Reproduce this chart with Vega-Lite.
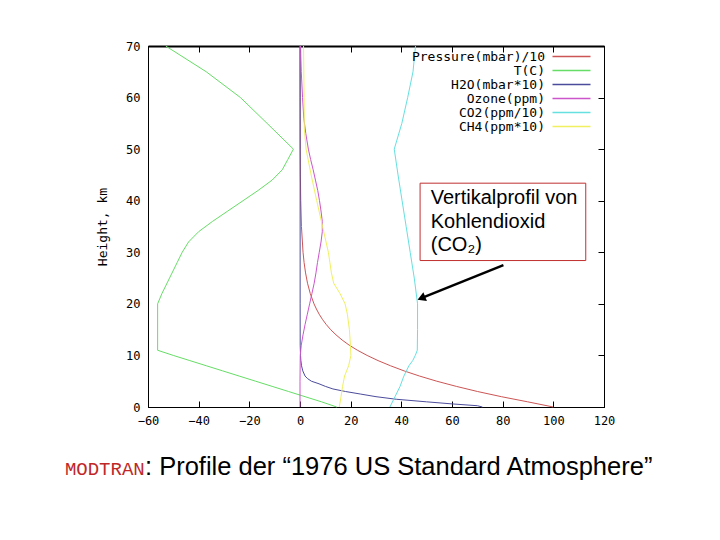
{
  "$schema": "https://vega.github.io/schema/vega-lite/v6.json",
  "width": 456,
  "height": 361,
  "autosize": {"type": "none"},
  "padding": {"left": 148, "top": 46, "right": 116, "bottom": 133},
  "background": "white",
  "config": {
    "view": {"stroke": "black", "strokeWidth": 1},
    "axis": {"labelFont": "DejaVu Sans Mono", "labelFontSize": 12, "labelColor": "black", "titleFont": "DejaVu Sans Mono", "titleFontWeight": "normal", "titleColor": "black", "grid": false, "domainColor": "black", "tickColor": "black"}
  },
  "datasets": {
    "prof": [
      {"series":"Pressure(mbar)/10","h":0,"v":100},{"series":"Pressure(mbar)/10","h":1,"v":89.9},{"series":"Pressure(mbar)/10","h":2,"v":79.5},{"series":"Pressure(mbar)/10","h":3,"v":70.1},{"series":"Pressure(mbar)/10","h":4,"v":61.7},{"series":"Pressure(mbar)/10","h":5,"v":54},{"series":"Pressure(mbar)/10","h":6,"v":47.2},{"series":"Pressure(mbar)/10","h":7,"v":41.1},{"series":"Pressure(mbar)/10","h":8,"v":35.7},{"series":"Pressure(mbar)/10","h":9,"v":30.8},{"series":"Pressure(mbar)/10","h":10,"v":26.5},{"series":"Pressure(mbar)/10","h":11,"v":22.7},{"series":"Pressure(mbar)/10","h":12,"v":19.4},{"series":"Pressure(mbar)/10","h":13,"v":16.6},{"series":"Pressure(mbar)/10","h":14,"v":14.2},{"series":"Pressure(mbar)/10","h":15,"v":12.1},{"series":"Pressure(mbar)/10","h":16,"v":10.35},{"series":"Pressure(mbar)/10","h":17,"v":8.85},{"series":"Pressure(mbar)/10","h":18,"v":7.56},{"series":"Pressure(mbar)/10","h":19,"v":6.47},{"series":"Pressure(mbar)/10","h":20,"v":5.53},{"series":"Pressure(mbar)/10","h":22,"v":4.05},{"series":"Pressure(mbar)/10","h":24,"v":2.97},{"series":"Pressure(mbar)/10","h":26,"v":2.19},{"series":"Pressure(mbar)/10","h":28,"v":1.62},{"series":"Pressure(mbar)/10","h":30,"v":1.2},{"series":"Pressure(mbar)/10","h":35,"v":0.57},{"series":"Pressure(mbar)/10","h":40,"v":0.29},{"series":"Pressure(mbar)/10","h":45,"v":0.15},{"series":"Pressure(mbar)/10","h":50,"v":0.08},{"series":"Pressure(mbar)/10","h":60,"v":0.02},{"series":"Pressure(mbar)/10","h":70,"v":0.006},
      {"series":"T(C)","h":0,"v":14.5},{"series":"T(C)","h":1,"v":8.5},{"series":"T(C)","h":2,"v":2},{"series":"T(C)","h":3,"v":-4.5},{"series":"T(C)","h":4,"v":-11},{"series":"T(C)","h":5,"v":-17.5},{"series":"T(C)","h":6,"v":-24},{"series":"T(C)","h":7,"v":-30.5},{"series":"T(C)","h":8,"v":-37},{"series":"T(C)","h":9,"v":-43.5},{"series":"T(C)","h":10,"v":-50},{"series":"T(C)","h":11,"v":-56.2},{"series":"T(C)","h":20,"v":-56.2},{"series":"T(C)","h":22,"v":-54.5},{"series":"T(C)","h":25,"v":-51.5},{"series":"T(C)","h":28,"v":-48.5},{"series":"T(C)","h":30,"v":-46.5},{"series":"T(C)","h":32,"v":-44},{"series":"T(C)","h":34,"v":-40},{"series":"T(C)","h":36,"v":-34.5},{"series":"T(C)","h":38,"v":-28.5},{"series":"T(C)","h":40,"v":-22.5},{"series":"T(C)","h":42,"v":-16.5},{"series":"T(C)","h":44,"v":-11},{"series":"T(C)","h":46,"v":-7},{"series":"T(C)","h":48,"v":-4.8},{"series":"T(C)","h":50,"v":-2.6},{"series":"T(C)","h":55,"v":-13},{"series":"T(C)","h":60,"v":-23.5},{"series":"T(C)","h":65,"v":-37},{"series":"T(C)","h":70,"v":-53},
      {"series":"H2O(mbar*10)","h":0,"v":72},{"series":"H2O(mbar*10)","h":0.25,"v":70},{"series":"H2O(mbar*10)","h":0.6,"v":60},{"series":"H2O(mbar*10)","h":1,"v":50},{"series":"H2O(mbar*10)","h":1.5,"v":38},{"series":"H2O(mbar*10)","h":2,"v":30},{"series":"H2O(mbar*10)","h":2.5,"v":24},{"series":"H2O(mbar*10)","h":3,"v":18},{"series":"H2O(mbar*10)","h":3.5,"v":13},{"series":"H2O(mbar*10)","h":4,"v":10},{"series":"H2O(mbar*10)","h":4.5,"v":7.5},{"series":"H2O(mbar*10)","h":5,"v":4.5},{"series":"H2O(mbar*10)","h":5.5,"v":3},{"series":"H2O(mbar*10)","h":6,"v":2},{"series":"H2O(mbar*10)","h":7,"v":1.1},{"series":"H2O(mbar*10)","h":8,"v":0.6},{"series":"H2O(mbar*10)","h":9,"v":0.35},{"series":"H2O(mbar*10)","h":10,"v":0.2},{"series":"H2O(mbar*10)","h":12,"v":0.08},{"series":"H2O(mbar*10)","h":20,"v":0.05},{"series":"H2O(mbar*10)","h":70,"v":0.05},
      {"series":"Ozone(ppm)","h":0,"v":0},{"series":"Ozone(ppm)","h":5,"v":0},{"series":"Ozone(ppm)","h":10,"v":0.1},{"series":"Ozone(ppm)","h":12,"v":0.5},{"series":"Ozone(ppm)","h":14,"v":1.2},{"series":"Ozone(ppm)","h":16,"v":2},{"series":"Ozone(ppm)","h":18,"v":2.9},{"series":"Ozone(ppm)","h":20,"v":3.8},{"series":"Ozone(ppm)","h":22,"v":4.7},{"series":"Ozone(ppm)","h":24,"v":5.6},{"series":"Ozone(ppm)","h":26,"v":6.3},{"series":"Ozone(ppm)","h":28,"v":6.9},{"series":"Ozone(ppm)","h":30,"v":7.6},{"series":"Ozone(ppm)","h":32,"v":8.3},{"series":"Ozone(ppm)","h":34,"v":8.8},{"series":"Ozone(ppm)","h":36,"v":8.8},{"series":"Ozone(ppm)","h":38,"v":8.3},{"series":"Ozone(ppm)","h":40,"v":7.7},{"series":"Ozone(ppm)","h":42,"v":7},{"series":"Ozone(ppm)","h":44,"v":6.1},{"series":"Ozone(ppm)","h":46,"v":5.2},{"series":"Ozone(ppm)","h":48,"v":4.2},{"series":"Ozone(ppm)","h":50,"v":3.3},{"series":"Ozone(ppm)","h":53,"v":2.3},{"series":"Ozone(ppm)","h":56,"v":1.5},{"series":"Ozone(ppm)","h":60,"v":1},{"series":"Ozone(ppm)","h":65,"v":0.5},{"series":"Ozone(ppm)","h":70,"v":0.2},
      {"series":"CO2(ppm/10)","h":0,"v":35.5},{"series":"CO2(ppm/10)","h":2,"v":37.5},{"series":"CO2(ppm/10)","h":4,"v":39.5},{"series":"CO2(ppm/10)","h":6,"v":41},{"series":"CO2(ppm/10)","h":8,"v":43},{"series":"CO2(ppm/10)","h":9,"v":44.5},{"series":"CO2(ppm/10)","h":10,"v":45.5},{"series":"CO2(ppm/10)","h":11,"v":46.3},{"series":"CO2(ppm/10)","h":15,"v":46.4},{"series":"CO2(ppm/10)","h":20,"v":46.4},{"series":"CO2(ppm/10)","h":25,"v":45.1},{"series":"CO2(ppm/10)","h":30,"v":43.5},{"series":"CO2(ppm/10)","h":35,"v":41.9},{"series":"CO2(ppm/10)","h":40,"v":40.3},{"series":"CO2(ppm/10)","h":45,"v":38.7},{"series":"CO2(ppm/10)","h":50,"v":37.2},{"series":"CO2(ppm/10)","h":55,"v":40.2},{"series":"CO2(ppm/10)","h":60,"v":42.5},{"series":"CO2(ppm/10)","h":65,"v":44.6},{"series":"CO2(ppm/10)","h":70,"v":45.6},
      {"series":"CH4(ppm*10)","h":0,"v":15.5},{"series":"CH4(ppm*10)","h":2,"v":16.2},{"series":"CH4(ppm*10)","h":4,"v":16.8},{"series":"CH4(ppm*10)","h":6,"v":17.6},{"series":"CH4(ppm*10)","h":8,"v":19.2},{"series":"CH4(ppm*10)","h":10,"v":20.1},{"series":"CH4(ppm*10)","h":12,"v":19.9},{"series":"CH4(ppm*10)","h":15,"v":19.5},{"series":"CH4(ppm*10)","h":18,"v":18.7},{"series":"CH4(ppm*10)","h":20,"v":17.8},{"series":"CH4(ppm*10)","h":22,"v":15.8},{"series":"CH4(ppm*10)","h":24,"v":13.3},{"series":"CH4(ppm*10)","h":26,"v":12.4},{"series":"CH4(ppm*10)","h":28,"v":11.8},{"series":"CH4(ppm*10)","h":30,"v":11.2},{"series":"CH4(ppm*10)","h":35,"v":8.9},{"series":"CH4(ppm*10)","h":40,"v":6.6},{"series":"CH4(ppm*10)","h":45,"v":4.4},{"series":"CH4(ppm*10)","h":50,"v":2.4},{"series":"CH4(ppm*10)","h":54,"v":1.7},{"series":"CH4(ppm*10)","h":60,"v":1.6},{"series":"CH4(ppm*10)","h":70,"v":1.4}
    ],
    "box": [{"x1": 47.4, "x2": 112.8, "y1": 28.4, "y2": 43.4}],
    "notes": [
      {"label": "Vertikalprofil von", "x": 51.6, "y": 39.3},
      {"label": "Kohlendioxid", "x": 51.6, "y": 34.7},
      {"label": "(CO₂)", "x": 51.6, "y": 30.2}
    ],
    "arrow": [{"x1": 80.3, "y1": 27.5, "x2": 47.9, "y2": 21.1}],
    "caption": [
      {"part": "MODTRAN", "x": -92.8, "y": -13.2},
      {"part": ": Profile der “1976 US Standard Atmosphere”", "x": -61.2, "y": -13.2}
    ]
  },
  "resolve": {"axis": {"x": "independent", "y": "independent"}},
  "layer": [
    {
      "data": {"name": "prof"},
      "mark": {"type": "line", "strokeWidth": 1},
      "encoding": {
        "x": {"field": "v", "type": "quantitative", "scale": {"domain": [-60, 120], "nice": false, "zero": false},
              "axis": {"orient": "bottom", "values": [-60,-40,-20,0,20,40,60,80,100,120], "title": null, "tickSize": -6, "labelPadding": 14, "domain": true, "labelFlush": false}},
        "y": {"field": "h", "type": "quantitative", "scale": {"domain": [0, 70], "nice": false, "zero": false},
              "axis": {"orient": "left", "values": [0,10,20,30,40,50,60,70], "title": "Height, km", "titleFontSize": 13, "titlePadding": 16, "ticks": false, "labelPadding": 8, "domain": true, "labelFlush": false}},
        "color": {"field": "series", "type": "nominal",
                  "scale": {"domain": ["Pressure(mbar)/10","T(C)","H2O(mbar*10)","Ozone(ppm)","CO2(ppm/10)","CH4(ppm*10)"],
                            "range": ["#cc5555","#66dd66","#4c4c9c","#cc55cc","#66e0e0","#f0f060"]},
                  "legend": {"orient": "none", "legendX": 417, "legendY": 4, "title": null, "symbolType": "M-3.8,0H3.8", "symbolSize": 100, "symbolStrokeWidth": 1.5, "labelAlign": "right", "labelOffset": -33, "labelFont": "DejaVu Sans Mono", "labelFontSize": 13, "labelColor": "black", "rowPadding": 0, "padding": 0, "offset": 0}},
        "order": {"field": "h", "type": "quantitative"}
      }
    },
    {
      "data": {"name": "box"},
      "mark": {"type": "rect", "fill": "white", "stroke": "#c03030", "strokeWidth": 1},
      "encoding": {
        "x": {"field": "x1", "type": "quantitative", "axis": {"orient": "top", "values": [-60,-40,-20,0,20,40,60,80,100,120], "labels": false, "title": null, "tickSize": -6, "domain": true, "domainWidth": 2}},
        "x2": {"field": "x2"},
        "y": {"field": "y1", "type": "quantitative", "axis": {"orient": "right", "values": [0,10,20,30,40,50,60,70], "labels": false, "title": null, "tickSize": -6, "domain": true}},
        "y2": {"field": "y2"}
      }
    },
    {
      "data": {"name": "notes"},
      "mark": {"type": "text", "font": "Liberation Sans", "fontSize": 20, "align": "left", "baseline": "alphabetic", "color": "black"},
      "encoding": {
        "x": {"field": "x", "type": "quantitative", "axis": null},
        "y": {"field": "y", "type": "quantitative", "axis": null},
        "text": {"field": "label"}
      }
    },
    {
      "data": {"name": "arrow"},
      "mark": {"type": "rule", "color": "black", "strokeWidth": 2.5},
      "encoding": {
        "x": {"field": "x1", "type": "quantitative", "axis": null},
        "y": {"field": "y1", "type": "quantitative", "axis": null},
        "x2": {"field": "x2"},
        "y2": {"field": "y2"}
      }
    },
    {
      "data": {"name": "arrow"},
      "mark": {"type": "point", "shape": "triangle-up", "filled": true, "color": "black", "size": 90, "angle": 248, "opacity": 1},
      "encoding": {
        "x": {"field": "x2", "type": "quantitative", "axis": null},
        "y": {"field": "y2", "type": "quantitative", "axis": null}
      }
    },
    {
      "data": {"name": "caption"},
      "transform": [{"filter": "datum.part == 'MODTRAN'"}],
      "mark": {"type": "text", "font": "Liberation Mono", "fontSize": 19, "align": "left", "baseline": "alphabetic", "color": "#c02828"},
      "encoding": {
        "x": {"field": "x", "type": "quantitative", "axis": null},
        "y": {"field": "y", "type": "quantitative", "axis": null},
        "text": {"field": "part"}
      }
    },
    {
      "data": {"name": "caption"},
      "transform": [{"filter": "datum.part != 'MODTRAN'"}],
      "mark": {"type": "text", "font": "Liberation Sans", "fontSize": 25.5, "align": "left", "baseline": "alphabetic", "color": "black"},
      "encoding": {
        "x": {"field": "x", "type": "quantitative", "axis": null},
        "y": {"field": "y", "type": "quantitative", "axis": null},
        "text": {"field": "part"}
      }
    }
  ]
}
